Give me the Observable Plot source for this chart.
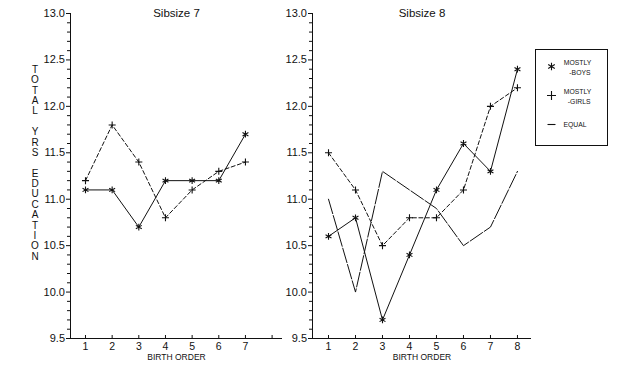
<!DOCTYPE html>
<html><head><meta charset="utf-8">
<script src="https://cdn.jsdelivr.net/npm/d3@7"></script>
<script src="https://cdn.jsdelivr.net/npm/@observablehq/plot@0.6"></script>
<style>
html,body{margin:0;padding:0;background:#fff;}
#chart{position:relative;width:629px;height:371px;overflow:hidden;font-family:"Liberation Sans",Arial,sans-serif;color:#111;background:#fff;}
#chart svg{position:absolute;top:0;}
#ylabel{position:absolute;left:29px;top:64.8px;width:12px;font-size:10px;text-align:center;line-height:10.39px;white-space:pre;color:#111;}
</style></head><body><div id="chart"></div>
<script>
// ---- data ----
const birthOrder7 = [1, 2, 3, 4, 5, 6, 7];
const boys7  = [11.1, 11.1, 10.7, 11.2, 11.2, 11.2, 11.7];
const girls7 = [11.2, 11.8, 11.4, 10.8, 11.1, 11.3, 11.4];
const birthOrder8 = [1, 2, 3, 4, 5, 6, 7, 8];
const boys8  = [10.6, 10.8, 9.7, 10.4, 11.1, 11.6, 11.3, 12.4];
const girls8 = [11.5, 11.1, 10.5, 10.8, 10.8, 11.1, 12.0, 12.2];
const equal8 = [11.0, 10.0, 11.3, 11.1, 10.9, 10.5, 10.7, 11.3];
const yMajorTicks = [9.5, 10.0, 10.5, 11.0, 11.5, 12.0, 12.5, 13.0];
const xTicks = [1, 2, 3, 4, 5, 6, 7, 8];
const xTickLabels7 = ["1", "2", "3", "4", "5", "6", "7", ""];
const xTickLabels8 = ["1", "2", "3", "4", "5", "6", "7", "8"];
const panelTitles = ["Sibsize 7", "Sibsize 8"];
const seriesKeys = ["boys", "girls", "equal"];
const legendLine1 = ["MOSTLY", "MOSTLY", "EQUAL"];
const legendLine2 = ["-BOYS", "-GIRLS", ""];
const yTitle = "TOTAL YRS EDUCATION";
const xTitle = "BIRTH ORDER";

// ---- styles ----
const INK = "#111";
const FONT = "'Liberation Sans', Arial, sans-serif";
const dashes = {boys: null, girls: "4,2.5", equal: "15,2"};
const symbols = {boys: "asterisk", girls: "plus", equal: null};
const symR = {boys: 3.2, girls: 2.4};
const minorTicks = d3.range(95, 131).map(d => d / 10).filter(d => !yMajorTicks.includes(d));

const chart = document.getElementById("chart");

function panel({orders, series, labels, title, left, width, marginLeft, marginRight, xDomain}) {
  const marks = [
    Plot.axisY(yMajorTicks, {tickSize: 4, tickPadding: 1.5, tickFormat: d3.format(".1f"), label: null, fontSize: 11, stroke: INK, fill: INK}),
    Plot.axisY(minorTicks, {tickSize: 3, text: null, label: null, stroke: INK}),
    Plot.ruleX([xDomain[0]], {stroke: INK}),
    Plot.ruleY([9.5], {stroke: INK}),
    Plot.ruleX(xTicks, {stroke: INK, insetTop: 322}),
    Plot.axisX(xTicks, {tickSize: 0, tickPadding: 4, tickFormat: (d, i) => labels[i], label: null, fontSize: 10.5, fill: INK}),
    Plot.text([title], {frameAnchor: "top", dy: -5, fontSize: 11.5, fill: INK, letterSpacing: "0.4px"}),
    Plot.text([xTitle], {frameAnchor: "bottom", dy: 21, fontSize: 8.5, fill: INK})
  ];
  for (const s of series) {
    const rows = orders.map((o, i) => ({x: o, y: s.values[i]}));
    marks.push(Plot.line(rows, {x: "x", y: "y", stroke: INK, strokeWidth: 1, strokeDasharray: dashes[s.key]}));
    if (symbols[s.key]) marks.push(Plot.dot(rows, {x: "x", y: "y", symbol: symbols[s.key], r: symR[s.key], stroke: INK, strokeWidth: 1.1}));
  }
  const svg = Plot.plot({
    width, height: 371, marginTop: 13, marginBottom: 33, marginLeft, marginRight,
    x: {domain: xDomain, axis: null},
    y: {domain: [9.5, 13.0], axis: null},
    style: {fontFamily: FONT, color: INK, background: "transparent", overflow: "visible"},
    marks
  });
  svg.style.left = left + "px";
  chart.appendChild(svg);
}

panel({orders: birthOrder7, series: [{key: "boys", values: boys7}, {key: "girls", values: girls7}],
  labels: xTickLabels7, title: panelTitles[0], left: 0, width: 300, marginLeft: 70, marginRight: 18, xDomain: [0.4375, 8.39]});
panel({orders: birthOrder8, series: [{key: "boys", values: boys8}, {key: "girls", values: girls8}, {key: "equal", values: equal8}],
  labels: xTickLabels8, title: panelTitles[1], left: 240, width: 389, marginLeft: 72, marginRight: 98, xDomain: [0.407, 8.52]});

// ---- legend ----
const hline = {draw(ctx, size) { const r = Math.sqrt(size / Math.PI); ctx.moveTo(-r, 0); ctx.lineTo(r, 0); }};
const legendRows = seriesKeys.map((k, i) => ({key: k, l1: legendLine1[i], l2: legendLine2[i]}));
const legend = Plot.plot({
  width: 72, height: 96, margin: 0,
  x: {type: "point", domain: ["sym", "text"], range: [16, 42], padding: 0, axis: null},
  y: {type: "point", domain: seriesKeys, range: [17, 75], padding: 0, axis: null},
  style: {fontFamily: FONT, color: INK, background: "transparent", overflow: "visible"},
  marks: [
    Plot.frame({stroke: INK, strokeWidth: 1}),
    Plot.dot(legendRows.filter(d => d.key === "boys"), {x: () => "sym", y: "key", symbol: "asterisk", r: 3.6, stroke: INK, strokeWidth: 1.1}),
    Plot.dot(legendRows.filter(d => d.key === "girls"), {x: () => "sym", y: "key", symbol: "plus", r: 3.0, stroke: INK, strokeWidth: 1.1}),
    Plot.dot(legendRows.filter(d => d.key === "equal"), {x: () => "sym", y: "key", symbol: hline, r: 4, stroke: INK, strokeWidth: 1.1}),
    Plot.text(legendRows.filter(d => d.l2), {x: () => "text", y: "key", text: "l1", textAnchor: "middle", dy: -4, fontSize: 6.8, fill: INK}),
    Plot.text(legendRows.filter(d => d.l2), {x: () => "text", y: "key", text: "l2", textAnchor: "end", dx: 13, dy: 6, fontSize: 6.8, fill: INK}),
    Plot.text(legendRows.filter(d => !d.l2), {x: () => "text", y: "key", text: "l1", textAnchor: "start", dx: -14, fontSize: 6.8, fill: INK})
  ]
});
legend.style.left = "535px";
legend.style.top = "49px";
chart.appendChild(legend);

// ---- stacked y title ----
const yl = document.createElement("div");
yl.id = "ylabel";
yl.textContent = yTitle.split("").join("\n");
chart.appendChild(yl);
</script>
</body></html>
